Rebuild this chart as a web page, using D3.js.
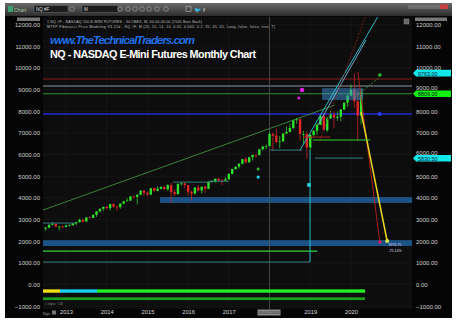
<!DOCTYPE html>
<html>
<head>
<meta charset="utf-8">
<script src="https://cdn.jsdelivr.net/npm/d3@7"></script>
<style>
  html, body { margin: 0; padding: 0; background: #fff; }
  svg { display: block; font-family: "Liberation Sans", Arial, sans-serif; }
</style>
</head>
<body>
<div id="vis"></div>
<script>

////////////////////////////////////////
///////////////// Data /////////////////
////////////////////////////////////////

// monthly NQ bars: month, open, high, low, close
const bars = [
  ["2012-07", 2580, 2650, 2480, 2630], ["2012-08", 2630, 2780, 2600, 2760],
  ["2012-09", 2760, 2880, 2740, 2800], ["2012-10", 2800, 2820, 2640, 2680],
  ["2012-11", 2680, 2700, 2500, 2680], ["2012-12", 2680, 2720, 2590, 2660],
  ["2013-01", 2660, 2770, 2640, 2730], ["2013-02", 2730, 2790, 2690, 2740],
  ["2013-03", 2740, 2830, 2720, 2820], ["2013-04", 2820, 2890, 2730, 2880],
  ["2013-05", 2880, 3040, 2870, 2990], ["2013-06", 2990, 3030, 2860, 2910],
  ["2013-07", 2910, 3100, 2900, 3100], ["2013-08", 3100, 3140, 3050, 3080],
  ["2013-09", 3080, 3240, 3070, 3220], ["2013-10", 3220, 3390, 3130, 3380],
  ["2013-11", 3380, 3510, 3330, 3500], ["2013-12", 3500, 3600, 3400, 3590],
  ["2014-01", 3590, 3620, 3460, 3530], ["2014-02", 3530, 3730, 3410, 3720],
  ["2014-03", 3720, 3740, 3540, 3600], ["2014-04", 3600, 3650, 3410, 3580],
  ["2014-05", 3580, 3740, 3500, 3740], ["2014-06", 3740, 3850, 3700, 3850],
  ["2014-07", 3850, 3990, 3840, 3880], ["2014-08", 3880, 4080, 3860, 4070],
  ["2014-09", 4070, 4110, 3970, 4050], ["2014-10", 4050, 4160, 3700, 4150],
  ["2014-11", 4150, 4350, 4130, 4340], ["2014-12", 4340, 4360, 4090, 4240],
  ["2015-01", 4240, 4300, 4080, 4160], ["2015-02", 4160, 4460, 4120, 4450],
  ["2015-03", 4450, 4490, 4270, 4330], ["2015-04", 4330, 4540, 4300, 4420],
  ["2015-05", 4420, 4530, 4380, 4510], ["2015-06", 4510, 4570, 4390, 4400],
  ["2015-07", 4400, 4640, 4330, 4590], ["2015-08", 4590, 4700, 3790, 4270],
  ["2015-09", 4270, 4400, 4080, 4180], ["2015-10", 4180, 4660, 4140, 4650],
  ["2015-11", 4650, 4720, 4560, 4670], ["2015-12", 4670, 4710, 4460, 4590],
  ["2016-01", 4590, 4600, 4100, 4280], ["2016-02", 4280, 4340, 3880, 4200],
  ["2016-03", 4200, 4490, 4150, 4480], ["2016-04", 4480, 4600, 4300, 4340],
  ["2016-05", 4340, 4530, 4200, 4520], ["2016-06", 4520, 4570, 4240, 4420],
  ["2016-07", 4420, 4750, 4400, 4740], ["2016-08", 4740, 4810, 4700, 4770],
  ["2016-09", 4770, 4900, 4690, 4880], ["2016-10", 4880, 4930, 4780, 4810],
  ["2016-11", 4810, 4880, 4600, 4800], ["2016-12", 4800, 4960, 4780, 4860],
  ["2017-01", 4860, 5130, 4850, 5110], ["2017-02", 5110, 5340, 5080, 5330],
  ["2017-03", 5330, 5460, 5300, 5440], ["2017-04", 5440, 5600, 5350, 5580],
  ["2017-05", 5580, 5800, 5540, 5790], ["2017-06", 5790, 5900, 5580, 5650],
  ["2017-07", 5650, 5900, 5620, 5880], ["2017-08", 5880, 5990, 5730, 5990],
  ["2017-09", 5990, 6010, 5840, 5980], ["2017-10", 5980, 6260, 5960, 6250],
  ["2017-11", 6250, 6410, 6190, 6370], ["2017-12", 6370, 6460, 6250, 6400],
  ["2018-01", 6400, 7040, 6390, 6950], ["2018-02", 6950, 7020, 6160, 6880],
  ["2018-03", 6880, 7200, 6530, 6580], ["2018-04", 6580, 6860, 6300, 6610],
  ["2018-05", 6610, 7000, 6580, 6970], ["2018-06", 6970, 7300, 6960, 7050],
  ["2018-07", 7050, 7420, 7020, 7230], ["2018-08", 7230, 7600, 7180, 7590],
  ["2018-09", 7590, 7700, 7420, 7630], ["2018-10", 7630, 7700, 6640, 6950],
  ["2018-11", 6950, 7100, 6500, 6950], ["2018-12", 6950, 7080, 5820, 6330],
  ["2019-01", 6330, 6960, 6190, 6910], ["2019-02", 6910, 7130, 6840, 7100],
  ["2019-03", 7100, 7450, 6920, 7380], ["2019-04", 7380, 7850, 7360, 7780],
  ["2019-05", 7780, 7860, 7120, 7130], ["2019-06", 7130, 7740, 7040, 7670],
  ["2019-07", 7670, 8030, 7650, 7850], ["2019-08", 7850, 8000, 7220, 7700],
  ["2019-09", 7700, 7990, 7550, 7750], ["2019-10", 7750, 8100, 7540, 8080],
  ["2019-11", 8080, 8400, 8070, 8400], ["2019-12", 8400, 8760, 8200, 8730],
  ["2020-01", 8730, 9240, 8700, 9000], ["2020-02", 9000, 9760, 8150, 8460],
  ["2020-03", 8460, 8940, 6630, 7800], ["2020-04", 7800, 9030, 7400, 8900]
];

const yearLabels = [2013, 2014, 2015, 2016, 2017, 2019, 2020];
const priceTicks = [-1000, 0, 1000, 2000, 3000, 4000, 5000, 6000, 7000, 8000, 9000, 10000, 11000, 12000];

// full-width horizontal price levels
const levels = [
  { name: "red", value: 9490 },
  { name: "grey", value: 9170 },
  { name: "green", value: 8809 },
  { name: "blue", value: 7875 }
];

// shaded zones: decimal years and price range
const zones = [
  { name: "deep", from: 2012.435, to: 2021.5, lo: 1780, hi: 2050 },
  { name: "deep", from: 2015.31, to: 2021.5, lo: 3770, hi: 4040 },
  { name: "light", from: 2019.29, to: 2020.3, lo: 8520, hi: 9070 }
];

// drawn lines: decimal year / price at each end
const segments = [
  { name: "trend", t1: 2012.435, v1: 3440, t2: 2019.61, v2: 8290 },
  { name: "trendDot", t1: 2020.10, v1: 8660, t2: 2020.71, v2: 9580 },
  { name: "cyan", t1: 2018.75, v1: 6210, t2: 2020.67, v2: 12400 },
  { name: "sky", t1: 2019.19, v1: 7370, t2: 2020.37, v2: 11290 },
  { name: "redUp", t1: 2019.24, v1: 6670, t2: 2020.37, v2: 12450 },
  { name: "redDown", t1: 2020.17, v1: 9815, t2: 2020.71, v2: 1960 },
  { name: "yellow", t1: 2020.25, v1: 7970, t2: 2020.89, v2: 2010 },
  { name: "lime", t1: 2012.435, v1: 1547, t2: 2019.17, v2: 1547 },
  { name: "teal", t1: 2012.435, v1: 1040, t2: 2018.995, v2: 1040 },
  { name: "cyan", t1: 2018.995, v1: 1040, t2: 2018.995, v2: 6210 },
  { name: "teal", t1: 2018.01, v1: 6210, t2: 2018.80, v2: 6210 },
  { name: "teal", t1: 2019.12, v1: 5840, t2: 2020.30, v2: 5840 },
  { name: "lime", t1: 2019.07, v1: 6675, t2: 2020.47, v2: 6675 },
  { name: "redShort", t1: 2018.82, v1: 6810, t2: 2019.49, v2: 6810 },
  { name: "teal", t1: 2012.435, v1: 2840, t2: 2013.22, v2: 2840 },
  { name: "teal", t1: 2015.63, v1: 4730, t2: 2016.54, v2: 4730 },
  { name: "teal", t1: 2016.5, v1: 4770, t2: 2017.0, v2: 4770 }
];

const dots = [
  { name: "magenta", t: 2018.80, v: 8985, r: 2.2 },
  { name: "magenta", t: 2018.72, v: 8615, r: 1.5 },
  { name: "cyan", t: 2017.72, v: 4965, r: 1.6 },
  { name: "green", t: 2017.72, v: 5335, r: 1.5 },
  { name: "blue", t: 2020.71, v: 7875, r: 2 },
  { name: "green", t: 2020.71, v: 9677, r: 1.8 },
  { name: "pink", t: 2020.71, v: 1963, r: 1.8 },
  { name: "yellow", t: 2020.89, v: 2010, r: 2 }
];

const markers = [{ t: 2018.97, v: 4600 }];

const priceTags = [
  { name: "cyan", value: 9763, text: "9763.00" },
  { name: "green", value: 8809, text: "8809.00" },
  { name: "cyan", value: 5830.5, text: "5830.50" }
];

// indicator strips below zero
const strips = [
  { name: "yellow", from: 2012.435, to: 2012.853, lo: -378, hi: -222 },
  { name: "cyan", from: 2012.853, to: 2013.762, lo: -378, hi: -222 },
  { name: "lime", from: 2013.762, to: 2020.346, lo: -378, hi: -222 },
  { name: "green", from: 2012.435, to: 2020.346, lo: -716, hi: -590 }
];

const target = { t: 2020.92, v: 1960, change: "5976.75", pct: "-75.14%" };

////////////////////////////////////////
/////////////// Styles /////////////////
////////////////////////////////////////

const colors = {
  up: "#2fe02f", down: "#e2262a",
  red: "#8a1c1c", grey: "#8796a4", green: "#2f8f2f", blue: "#2727d6",
  deep: "#1d5a92", light: "#3d8fd0",
  trend: "#3e913e", trendDot: "#3e9a3e", cyan: "#2ccbdc", sky: "#78b8e0",
  redUp: "#7a1d1d", redDown: "#b52020", yellow: "#ecd820",
  lime: "#33d233", teal: "#3a8c90", redShort: "#c42424",
  magenta: "#e020e0", pink: "#e0206a"
};

const dotColors = {
  magenta: "#e020e0", cyan: "#22d4e4", green: "#2fb82f", blue: "#2a3cff",
  pink: "#e0206a", yellow: "#d8e840"
};

const stripColors = { yellow: "#f0e010", cyan: "#15d2f0", lime: "#22ee22", green: "#1aa01a" };

const tagColors = { cyan: "#10e8ea", green: "#12f012" };

////////////////////////////////////////
////////////// SVG Setup ///////////////
////////////////////////////////////////

const W = 456, H = 322;
const plot = { left: 43, right: 412, top: 17, bottom: 309 };

const svg = d3.select("#vis").append("svg")
  .attr("width", W)
  .attr("height", H);

svg.append("rect").attr("width", W).attr("height", H).attr("fill", "#fff");

// window frame
svg.append("rect")
  .attr("x", 5).attr("y", 3).attr("width", 447).attr("height", 315)
  .attr("fill", "#050505");

svg.append("rect")
  .attr("x", plot.left).attr("y", plot.top)
  .attr("width", plot.right - plot.left).attr("height", plot.bottom - plot.top)
  .attr("fill", "#0d0d0d");

const defs = svg.append("defs");
defs.append("clipPath").attr("id", "clip")
  .append("rect")
  .attr("x", plot.left).attr("y", plot.top)
  .attr("width", plot.right - plot.left).attr("height", plot.bottom - plot.top);

const bar = defs.append("linearGradient").attr("id", "toolbar")
  .attr("x1", "0%").attr("x2", "0%").attr("y1", "0%").attr("y2", "100%");
bar.append("stop").attr("offset", "0%").style("stop-color", "#6a6a6a");
bar.append("stop").attr("offset", "100%").style("stop-color", "#2c2c2c");

////////////////////////////////////////
////////////// Scales //////////////////
////////////////////////////////////////

const x = d3.scaleLinear().domain([2012.435, 2021.5]).range([plot.left, plot.right]);
const y = d3.scaleLinear().domain([-1000, 12000]).range([306.2, 24.7]);

const monthX = m => {
  const [yy, mm] = m.split("-").map(Number);
  return x(yy + (mm - 1) / 12);
};

////////////////////////////////////////
////////////// Toolbar /////////////////
////////////////////////////////////////

const tb = svg.append("g");
tb.append("rect").attr("x", 5).attr("y", 3).attr("width", 447).attr("height", 13)
  .attr("fill", "url(#toolbar)");
tb.append("rect").attr("x", 8).attr("y", 6).attr("width", 5).attr("height", 6).attr("fill", "#3aa070");
tb.append("text").attr("x", 14).attr("y", 11.5).attr("font-size", 5).attr("fill", "#9bc79b").text("Chart");
tb.append("rect").attr("x", 34).attr("y", 5.5).attr("width", 34).attr("height", 7)
  .attr("fill", "#1c1c1c").attr("stroke", "#777").attr("stroke-width", 0.4);
tb.append("text").attr("x", 36).attr("y", 11).attr("font-size", 4.5).attr("fill", "#ddd").text("NQ #F");
tb.append("rect").attr("x", 82).attr("y", 5.5).attr("width", 36).attr("height", 7)
  .attr("fill", "#1c1c1c").attr("stroke", "#777").attr("stroke-width", 0.4);
tb.append("text").attr("x", 84).attr("y", 11).attr("font-size", 4.5).attr("fill", "#ddd").text("M");
[72, 120, 128, 135, 142, 149, 157, 166].forEach(cx => {
  tb.append("circle").attr("cx", cx).attr("cy", 9).attr("r", 2.3)
    .attr("fill", "none").attr("stroke", "#aaa").attr("stroke-width", 0.6);
});
tb.append("rect").attr("x", 186).attr("y", 6.5).attr("width", 5).attr("height", 5)
  .attr("fill", "none").attr("stroke", "#bbb").attr("stroke-width", 0.6);
tb.append("text").attr("x", 194).attr("y", 12).attr("font-size", 6).attr("fill", "#bbb").text("🐦");
tb.append("text").attr("x", 203).attr("y", 12).attr("font-size", 6).attr("font-weight", "bold").attr("fill", "#bbb").text("f");
tb.append("rect").attr("x", 408).attr("y", 5).attr("width", 36).attr("height", 4).attr("fill", "#888").attr("opacity", 0.5);
tb.append("rect").attr("x", 440).attr("y", 4.5).attr("width", 8).attr("height", 4.5).attr("fill", "#c84040");

////////////////////////////////////////
////////////// Grid & Axes /////////////
////////////////////////////////////////

const grid = svg.append("g").attr("clip-path", "url(#clip)");
grid.selectAll(".hg").data(priceTicks).join("line")
  .attr("x1", plot.left).attr("x2", plot.right)
  .attr("y1", d => y(d)).attr("y2", d => y(d))
  .attr("stroke", "#1b1b1b").attr("stroke-width", 0.6);
grid.selectAll(".vg").data([2013, 2014, 2015, 2016, 2017, 2019, 2020]).join("line")
  .attr("x1", d => x(d)).attr("x2", d => x(d))
  .attr("y1", plot.top).attr("y2", plot.bottom)
  .attr("stroke", "#1b1b1b").attr("stroke-width", 0.6);

const fmt = d3.format(".2f");

// price tags sit on top of these two labels, as in the platform
const tagged = [6000, 9000];

const leftAxis = svg.append("g")
  .attr("transform", `translate(${plot.left - 3},0)`)
  .call(d3.axisLeft(y).tickValues(priceTicks).tickFormat(fmt).tickSize(0).tickPadding(0));
const rightAxis = svg.append("g")
  .attr("transform", `translate(${plot.right + 4},0)`)
  .call(d3.axisRight(y).tickValues(priceTicks).tickFormat(fmt).tickSize(0).tickPadding(0));
[leftAxis, rightAxis].forEach(a => {
  a.select(".domain").remove();
  a.selectAll("text").attr("fill", "#cfcfcf").attr("font-size", 6)
    .attr("font-family", "Liberation Sans, Arial, sans-serif");
});
rightAxis.selectAll(".tick").filter(d => tagged.includes(d))
  .select("text").attr("dy", "-0.05em");

const bottomAxis = svg.append("g")
  .attr("transform", `translate(0,${plot.bottom})`)
  .call(d3.axisBottom(x).tickValues(yearLabels).tickFormat(d3.format("d")).tickSize(0).tickPadding(1));
bottomAxis.select(".domain").remove();
bottomAxis.selectAll("text").attr("fill", "#d8d8d8").attr("font-size", 5.8)
  .attr("font-family", "Liberation Sans, Arial, sans-serif");

////////////////////////////////////////
////////////// Zones & Levels //////////
////////////////////////////////////////

const chart = svg.append("g").attr("clip-path", "url(#clip)");

chart.selectAll(".zone").data(zones.filter(d => d.name === "deep")).join("rect")
  .attr("x", d => x(d.from)).attr("width", d => x(d.to) - x(d.from))
  .attr("y", d => y(d.hi)).attr("height", d => y(d.lo) - y(d.hi))
  .attr("fill", d => colors[d.name]).attr("opacity", 0.9);

chart.selectAll(".level").data(levels).join("line")
  .attr("x1", plot.left).attr("x2", plot.right)
  .attr("y1", d => y(d.value)).attr("y2", d => y(d.value))
  .attr("stroke", d => colors[d.name])
  .attr("stroke-width", d => d.name === "blue" ? 1.6 : 1.1);

// crosshair
chart.append("line")
  .attr("x1", x(2018)).attr("x2", x(2018))
  .attr("y1", plot.top).attr("y2", plot.bottom)
  .attr("stroke", "#5a5a5a").attr("stroke-width", 0.7);

chart.selectAll(".strip").data(strips).join("rect")
  .attr("x", d => x(d.from)).attr("width", d => x(d.to) - x(d.from))
  .attr("y", d => y(d.hi)).attr("height", d => y(d.lo) - y(d.hi))
  .attr("fill", d => stripColors[d.name]);

////////////////////////////////////////
////////////// Candles /////////////////
////////////////////////////////////////

const candles = chart.append("g");
candles.selectAll(".wick").data(bars).join("line")
  .attr("x1", d => monthX(d[0])).attr("x2", d => monthX(d[0]))
  .attr("y1", d => y(d[2])).attr("y2", d => y(d[3]))
  .attr("stroke", d => d[4] >= d[1] ? colors.up : colors.down)
  .attr("stroke-width", 0.7);
candles.selectAll(".body").data(bars).join("rect")
  .attr("x", d => monthX(d[0]) - 1.2).attr("width", 2.4)
  .attr("y", d => y(Math.max(d[1], d[4])))
  .attr("height", d => Math.max(0.7, Math.abs(y(d[1]) - y(d[4]))))
  .attr("fill", d => d[4] >= d[1] ? colors.up : colors.down);

chart.selectAll(".lzone").data(zones.filter(d => d.name === "light")).join("rect")
  .attr("x", d => x(d.from)).attr("width", d => x(d.to) - x(d.from))
  .attr("y", d => y(d.hi)).attr("height", d => y(d.lo) - y(d.hi))
  .attr("fill", colors.light).attr("opacity", 0.5);

////////////////////////////////////////
////////////// Drawings ////////////////
////////////////////////////////////////

chart.selectAll(".seg").data(segments).join("line")
  .attr("x1", d => x(d.t1)).attr("y1", d => y(d.v1))
  .attr("x2", d => x(d.t2)).attr("y2", d => y(d.v2))
  .attr("stroke", d => colors[d.name])
  .attr("stroke-width", d => d.name === "yellow" ? 1.5 : (d.name === "lime" ? 1.2 : 0.9))
  .attr("stroke-dasharray", d => (d.name === "trendDot" || d.name === "redUp") ? "2,1.5" : null);

chart.selectAll(".dot").data(dots).join("circle")
  .attr("cx", d => x(d.t)).attr("cy", d => y(d.v)).attr("r", d => d.r)
  .attr("fill", d => dotColors[d.name]);

chart.selectAll(".marker").data(markers).join("rect")
  .attr("x", d => x(d.t) - 1.8).attr("y", d => y(d.v) - 1.8)
  .attr("width", 3.6).attr("height", 3.6)
  .attr("fill", "#22d4e4");

svg.append("text")
  .attr("x", x(target.t)).attr("y", y(target.v) + 4)
  .attr("font-size", 3.6).attr("fill", "#dde")
  .text(target.change);
svg.append("text")
  .attr("x", x(target.t)).attr("y", y(target.v) + 9.5)
  .attr("font-size", 3.6).attr("fill", "#dde")
  .text(target.pct);

////////////////////////////////////////
////////////// Price Tags //////////////
////////////////////////////////////////

const tags = svg.selectAll(".tag").data(priceTags).join("g")
  .attr("transform", d => `translate(${plot.right + 1},${y(d.value)})`);
tags.append("path")
  .attr("d", "M0,0 L3,-3.3 L38,-3.3 L38,3.3 L3,3.3 Z")
  .attr("fill", d => tagColors[d.name]);
tags.append("text")
  .attr("x", 5).attr("y", 2.6)
  .attr("font-size", 5.4).attr("fill", "#113")
  .text(d => d.text);

////////////////////////////////////////
////////////// Headers /////////////////
////////////////////////////////////////

svg.append("text")
  .attr("x", 47).attr("y", 22.5)
  .attr("font-size", 3.6).attr("fill", "#bdbdbd")
  .attr("textLength", 155)
  .text("1 NQ #F - NASDAQ 100 E-MINI FUTURES - GLOBEX, M, 00:00-00:00 (1500 Bars Back)");
svg.append("text")
  .attr("x", 47).attr("y", 28)
  .attr("font-size", 3.6).attr("fill", "#bdbdbd")
  .attr("textLength", 228)
  .text("MTFP Fibonacci Price Modeling V3.21d - NQ #F, M (20, 20, 14, 14, 0.05, 0.002, 0.2, 35, 45, 45, Long, false, false, true, T)");

svg.append("text")
  .attr("x", 50).attr("y", 43.5)
  .attr("font-size", 11.5).attr("font-weight", "bold").attr("font-style", "italic")
  .attr("fill", "#1f6fe8")
  .attr("textLength", 145)
  .text("www.TheTechnicalTraders.com");

svg.append("text")
  .attr("x", 50).attr("y", 57.5)
  .attr("font-size", 10.8).attr("font-weight", "bold")
  .attr("fill", "#ffffff")
  .attr("textLength", 206)
  .text("NQ - NASDAQ E-Mini Futures Monthly Chart");

// small boxes at the top corners
svg.append("rect").attr("x", 17).attr("y", 17.5).attr("width", 23).attr("height", 3.5).attr("fill", "#777");
svg.append("rect").attr("x", 415).attr("y", 17.5).attr("width", 32).attr("height", 3.5).attr("fill", "#777");
svg.append("rect").attr("x", 404).attr("y", 19).attr("width", 5).attr("height", 5)
  .attr("fill", "#666").attr("stroke", "#999").attr("stroke-width", 0.4);

////////////////////////////////////////
////////////// Footer //////////////////
////////////////////////////////////////

svg.append("text").attr("x", 45).attr("y", 304.5)
  .attr("font-size", 3).attr("fill", "#888").text("# eligne : 100");
svg.append("text").attr("x", 43).attr("y", 314.5)
  .attr("font-size", 4).attr("fill", "#bbb").text("Dys");
svg.append("rect").attr("x", 52).attr("y", 310.5).attr("width", 4).attr("height", 4)
  .attr("fill", "#777");

svg.append("rect")
  .attr("x", x(2018) - 12).attr("y", 309.5).attr("width", 23).attr("height", 6)
  .attr("fill", "#8a8a8a");
svg.append("text")
  .attr("x", x(2018) - 0.5).attr("y", 314.2)
  .attr("text-anchor", "middle")
  .attr("font-size", 4.2).attr("fill", "#2a2a2a")
  .text("01/01/2018");

</script>
</body>
</html>
